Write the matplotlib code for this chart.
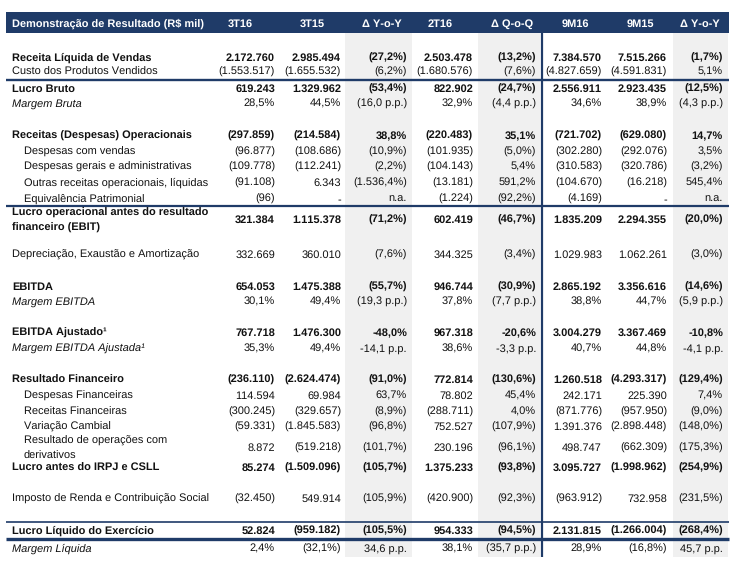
import matplotlib
matplotlib.use("Agg")
import matplotlib.pyplot as plt
from matplotlib.patches import Rectangle

plt.rcParams['font.family'] = ['Liberation Sans', 'DejaVu Sans']
plt.rcParams['text.hinting'] = 'no_hinting'
plt.rcParams['text.hinting_factor'] = 1

# ---------------- data ----------------
header_title = "Demonstração de Resultado (R$ mil)"
col_headers = ["3T16", "3T15", "Δ Y-o-Y", "2T16", "Δ Q-o-Q", "9M16", "9M15", "Δ Y-o-Y"]

row_labels = [
    "Receita Líquida de Vendas",
    "Custo dos Produtos Vendidos",
    "Lucro Bruto",
    "Margem Bruta",
    "Receitas (Despesas) Operacionais",
    "Despesas com vendas",
    "Despesas gerais e administrativas",
    "Outras receitas operacionais, líquidas",
    "Equivalência Patrimonial",
    "Lucro operacional antes do resultado\nfinanceiro (EBIT)",
    "Depreciação, Exaustão e Amortização",
    "EBITDA",
    "Margem EBITDA",
    "EBITDA Ajustado¹",
    "Margem EBITDA Ajustada¹",
    "Resultado Financeiro",
    "Despesas Financeiras",
    "Receitas Financeiras",
    "Variação Cambial",
    "Resultado de operações com\nderivativos",
    "Lucro antes do IRPJ e CSLL",
    "Imposto de Renda e Contribuição Social",
    "Lucro Líquido do Exercício",
    "Margem Líquida",
]

# style: b = bold, i = italic label, n = normal, s = indented sub item
row_styles = ["b", "n", "b", "i", "b", "s", "s", "s", "s", "b", "n", "b", "i",
              "b", "i", "b", "s", "s", "s", "s", "b", "n", "b", "i"]

v_3t16 = ["2.172.760", "(1.553.517)", "619.243", "28,5%", "(297.859)", "(96.877)",
          "(109.778)", "(91.108)", "(96)", "321.384", "332.669", "654.053", "30,1%",
          "767.718", "35,3%", "(236.110)", "114.594", "(300.245)", "(59.331)", "8.872",
          "85.274", "(32.450)", "52.824", "2,4%"]
v_3t15 = ["2.985.494", "(1.655.532)", "1.329.962", "44,5%", "(214.584)", "(108.686)",
          "(112.241)", "6.343", "-", "1.115.378", "360.010", "1.475.388", "49,4%",
          "1.476.300", "49,4%", "(2.624.474)", "69.984", "(329.657)", "(1.845.583)",
          "(519.218)", "(1.509.096)", "549.914", "(959.182)", "(32,1%)"]
v_yoy_q = ["(27,2%)", "(6,2%)", "(53,4%)", "(16,0 p.p.)", "38,8%", "(10,9%)", "(2,2%)",
           "(1.536,4%)", "n.a.", "(71,2%)", "(7,6%)", "(55,7%)", "(19,3 p.p.)", "-48,0%",
           "-14,1 p.p.", "(91,0%)", "63,7%", "(8,9%)", "(96,8%)", "(101,7%)", "(105,7%)",
           "(105,9%)", "(105,5%)", "34,6 p.p."]
v_2t16 = ["2.503.478", "(1.680.576)", "822.902", "32,9%", "(220.483)", "(101.935)",
          "(104.143)", "(13.181)", "(1.224)", "602.419", "344.325", "946.744", "37,8%",
          "967.318", "38,6%", "772.814", "78.802", "(288.711)", "752.527", "230.196",
          "1.375.233", "(420.900)", "954.333", "38,1%"]
v_qoq = ["(13,2%)", "(7,6%)", "(24,7%)", "(4,4 p.p.)", "35,1%", "(5,0%)", "5,4%",
         "591,2%", "(92,2%)", "(46,7%)", "(3,4%)", "(30,9%)", "(7,7 p.p.)", "-20,6%",
         "-3,3 p.p.", "(130,6%)", "45,4%", "4,0%", "(107,9%)", "(96,1%)", "(93,8%)",
         "(92,3%)", "(94,5%)", "(35,7 p.p.)"]
v_9m16 = ["7.384.570", "(4.827.659)", "2.556.911", "34,6%", "(721.702)", "(302.280)",
          "(310.583)", "(104.670)", "(4.169)", "1.835.209", "1.029.983", "2.865.192",
          "38,8%", "3.004.279", "40,7%", "1.260.518", "242.171", "(871.776)",
          "1.391.376", "498.747", "3.095.727", "(963.912)", "2.131.815", "28,9%"]
v_9m15 = ["7.515.266", "(4.591.831)", "2.923.435", "38,9%", "(629.080)", "(292.076)",
          "(320.786)", "(16.218)", "-", "2.294.355", "1.062.261", "3.356.616", "44,7%",
          "3.367.469", "44,8%", "(4.293.317)", "225.390", "(957.950)", "(2.898.448)",
          "(662.309)", "(1.998.962)", "732.958", "(1.266.004)", "(16,8%)"]
v_yoy_9m = ["(1,7%)", "5,1%", "(12,5%)", "(4,3 p.p.)", "14,7%", "3,5%", "(3,2%)",
            "545,4%", "n.a.", "(20,0%)", "(3,0%)", "(14,6%)", "(5,9 p.p.)", "-10,8%",
            "-4,1 p.p.", "(129,4%)", "7,4%", "(9,0%)", "(148,0%)", "(175,3%)",
            "(254,9%)", "(231,5%)", "(268,4%)", "45,7 p.p."]

columns = [v_3t16, v_3t15, v_yoy_q, v_2t16, v_qoq, v_9m16, v_9m15, v_yoy_9m]

# ---------------- layout (pixels) ----------------
W, H = 734, 565
row_y = [57, 71, 88, 103, 135, 151, 166, 182, 198, 219, 254, 286, 301, 332, 348,
         379, 395, 411, 426, 447, 467, 498, 530, 548]
col_right = [275, 341, 407, 473, 536, 602, 667, 723]
col_center = [240, 312, 382, 440, 512, 575, 640, 700]
shade_cols = [(345, 412), (478, 540), (673, 728)]
navy = "#1F3B68"
shade = "#F0F0F0"
fs = 7.9
base_off = 4.0   # center -> baseline offset in px
line_gap = 15.0
txt = "#111111"

fig = plt.figure(figsize=(W / 100, H / 100), dpi=100)
ax = fig.add_axes([0, 0, 1, 1])
ax.set_xlim(0, W)
ax.set_ylim(H, 0)
ax.axis("off")

# shaded delta columns
for x0, x1 in shade_cols:
    ax.add_patch(Rectangle((x0, 33), x1 - x0, 557 - 33, facecolor=shade, edgecolor="none", zorder=0))

# header
ax.add_patch(Rectangle((6, 12), 723, 21, facecolor=navy, edgecolor="none", zorder=1))
ax.text(12, 22.5 + base_off, header_title, color="white", fontsize=fs, fontweight="bold",
        ha="left", va="baseline", zorder=3)
for cx, h in zip(col_center, col_headers):
    ax.text(cx, 22.5 + base_off, h, color="white", fontsize=fs, fontweight="bold",
            ha="center", va="baseline", zorder=3)

# vertical separator
ax.plot([542, 542], [33, 557], color=navy, lw=1.6, zorder=2, solid_capstyle="butt")

# horizontal rules
for yy, lw in [(80, 1.7), (206, 1.6), (522, 1.2), (539, 2.4)]:
    ax.plot([6, 729], [yy, yy], color=navy, lw=lw, zorder=2, solid_capstyle="butt")

# rows
for i, (lab, st, y) in enumerate(zip(row_labels, row_styles, row_y)):
    x = 24 if st == "s" else 12
    weight = "bold" if st == "b" else "normal"
    style = "italic" if st == "i" else "normal"
    parts = lab.split("\n")
    n = len(parts)
    for k, part in enumerate(parts):
        yy = y + (k - (n - 1) / 2) * line_gap
        ax.text(x, yy + base_off, part, fontsize=fs, fontweight=weight, fontstyle=style,
                ha="left", va="baseline", color=txt, zorder=3)
    for xr, col in zip(col_right, columns):
        ax.text(xr, y + base_off, col[i], fontsize=fs, fontweight=weight,
                ha="right", va="baseline", color=txt, zorder=3)

fig.savefig("out.png", dpi=100, facecolor="white")
